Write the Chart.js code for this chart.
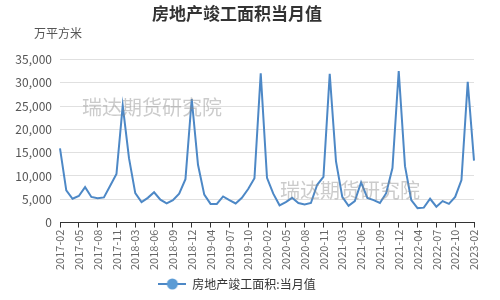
<!DOCTYPE html>
<html>
<head>
<meta charset="utf-8">
<script src="https://cdn.jsdelivr.net/npm/chart.js@4.4.1/dist/chart.umd.min.js"></script>
<style>
  html, body { margin: 0; padding: 0; background: #fff; }
  #wrap { width: 500px; height: 300px; position: relative; }
</style>
</head>
<body>
<div id="wrap"><canvas id="lineChart"></canvas></div>
<script>
// months: Jan is merged into Feb, so each year runs 02..12
const years = [2017, 2018, 2019, 2020, 2021, 2022];
const months = ['02', '03', '04', '05', '06', '07', '08', '09', '10', '11', '12'];
const labels = [];
years.forEach(y => months.forEach(m => labels.push(y + '-' + m)));
labels.push('2023-02');

const completedArea = [
    15900, 6900, 5100, 5700, 7600, 5500, 5200, 5400, 7900, 10400, 25100,
    13800, 6300, 4400, 5300, 6500, 4900, 4100, 4800, 6200, 9300, 26500,
    12400, 6000, 4000, 4000, 5600, 4800, 4100, 5300, 7200, 9500, 32000,
    9600, 6200, 3700, 4400, 5300, 4200, 3900, 4200, 8100, 9800, 31900,
    13100, 5500, 3600, 4600, 8600, 5300, 4800, 4200, 6300, 11700, 32500,
    12100, 4800, 3100, 3200, 5100, 3400, 4600, 4000, 5500, 9100, 30200,
    13300
];

const yTicks = [0, 5000, 10000, 15000, 20000, 25000, 30000, 35000];
const seriesName = '房地产竣工面积:当月值';
const lineColor = '#4d88c6';
const fontFamily = '"Noto Sans CJK SC", "Noto Sans", sans-serif';

// legend marker: short line with a dot
const marker = document.createElement('canvas');
marker.width = 28;
marker.height = 14;
const mctx = marker.getContext('2d');
mctx.strokeStyle = lineColor;
mctx.lineWidth = 2;
mctx.beginPath();
mctx.moveTo(0, 7);
mctx.lineTo(28, 7);
mctx.stroke();
mctx.fillStyle = '#5b9bd5';
mctx.beginPath();
mctx.arc(14, 7, 5.5, 0, Math.PI * 2);
mctx.fill();

const extras = {
    id: 'extras',
    afterDraw(chart) {
        const ctx = chart.ctx;
        ctx.save();
        ctx.fillStyle = '#555';
        ctx.font = '12px ' + fontFamily;
        ctx.textAlign = 'center';
        ctx.textBaseline = 'middle';
        ctx.fillText('万平方米', 58, 33);
        ctx.fillStyle = 'rgba(140,140,140,0.45)';
        ctx.font = '20px ' + fontFamily;
        ctx.textAlign = 'left';
        ctx.fillText('瑞达期货研究院', 82, 107);
        ctx.fillText('瑞达期货研究院', 280, 190);
        ctx.restore();
    }
};

new Chart(document.getElementById('lineChart'), {
    type: 'line',
    data: {
        labels: labels,
        datasets: [{
            label: seriesName,
            data: completedArea,
            borderColor: lineColor,
            borderWidth: 2,
            pointRadius: 0,
            pointHoverRadius: 0,
            tension: 0,
            fill: false
        }]
    },
    options: {
        responsive: true,
        maintainAspectRatio: false,
        animation: false,
        layout: { padding: { top: 0, right: 26, left: 0, bottom: 0 } },
        plugins: {
            title: {
                display: true,
                text: '房地产竣工面积当月值',
                color: '#333',
                font: { family: fontFamily, size: 17, weight: 'bold' },
                padding: { top: 3, bottom: 36 }
            },
            legend: {
                position: 'bottom',
                labels: {
                    usePointStyle: true,
                    pointStyle: marker,
                    pointStyleWidth: 28,
                    color: '#333',
                    font: { family: fontFamily, size: 12 },
                    padding: 6
                }
            },
            tooltip: { enabled: false }
        },
        scales: {
            x: {
                offset: false,
                grid: {
                    drawOnChartArea: false,
                    drawTicks: true,
                    tickLength: 5,
                    tickColor: ctx => (ctx.index % 3 === 0 ? '#333' : 'rgba(0,0,0,0)')
                },
                border: { color: '#333' },
                ticks: {
                    autoSkip: false,
                    maxRotation: 90,
                    minRotation: 90,
                    color: '#666',
                    font: { family: fontFamily, size: 11 },
                    padding: 2,
                    callback: function (val, i) {
                        return i % 3 === 0 ? this.getLabelForValue(val) : '';
                    }
                }
            },
            y: {
                min: 0,
                max: 35000,
                afterBuildTicks: axis => { axis.ticks = yTicks.map(v => ({ value: v })); },
                afterFit: axis => { axis.width = 60; },
                grid: { color: '#e0e0e0', drawTicks: false },
                border: { display: false },
                ticks: {
                    color: '#555',
                    font: { family: fontFamily, size: 12 },
                    padding: 8
                }
            }
        }
    },
    plugins: [extras]
});
</script>
</body>
</html>
